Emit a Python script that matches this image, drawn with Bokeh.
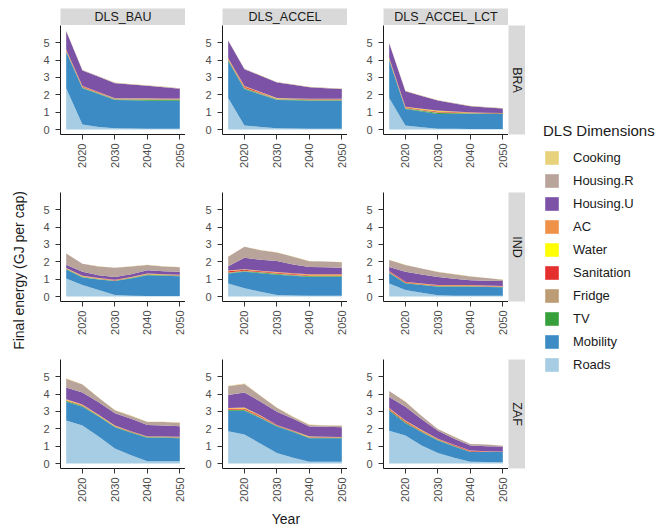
import math
from bokeh.plotting import figure
from bokeh.models import (ColumnDataSource, Range1d, FixedTicker, GridBox, Legend,
                          LegendItem)
from bokeh.embed import file_html
from bokeh.resources import INLINE
from bokeh.core.properties import value

years = [2015, 2020, 2025, 2030, 2035, 2040, 2045, 2050]
countries = ["BRA", "IND", "ZAF"]
scenarios = ["DLS_BAU", "DLS_ACCEL", "DLS_ACCEL_LCT"]
# stacking order, bottom -> top
dims = ["Roads", "Mobility", "TV", "Fridge", "Sanitation", "Water", "AC",
        "Housing.U", "Housing.R", "Cooking"]
legend_order = ["Cooking", "Housing.R", "Housing.U", "AC", "Water", "Sanitation",
                "Fridge", "TV", "Mobility", "Roads"]
dim_colors = {"Cooking": "#E8D17D", "Housing.R": "#B8A49A", "Housing.U": "#7B52A6",
              "AC": "#EF9148", "Water": "#FFFF00", "Sanitation": "#E42F2C",
              "Fridge": "#BC9C75", "TV": "#37A03A", "Mobility": "#3D8BC4",
              "Roads": "#A6CDE3"}
x_ticks = [2020, 2030, 2040, 2050]
y_ticks = [0, 1, 2, 3, 4, 5]
y_title = "Final energy (GJ per cap)"
x_title = "Year"
legend_title = "DLS Dimensions"

# rows = dims (bottom -> top), columns = years
BRA_BAU = [
    [2.38, 0.29, 0.15, 0.08, 0.06, 0.05, 0.05, 0.05],
    [2.08, 2.09, 1.89, 1.62, 1.62, 1.61, 1.61, 1.61],
    [0.03, 0.03, 0.03, 0.03, 0.04, 0.05, 0.05, 0.05],
    [0.03, 0.03, 0.04, 0.05, 0.06, 0.07, 0.06, 0.06],
    [0.04, 0.04, 0.03, 0.01, 0.01, 0.01, 0.01, 0.01],
    [0.02, 0.01, 0.01, 0.00, 0.00, 0.00, 0.00, 0.00],
    [0.02, 0.02, 0.01, 0.01, 0.01, 0.01, 0.01, 0.01],
    [1.06, 0.89, 0.88, 0.87, 0.79, 0.72, 0.65, 0.56],
    [0.02, 0.02, 0.02, 0.02, 0.02, 0.02, 0.02, 0.02],
    [0.02, 0.01, 0.01, 0.01, 0.01, 0.01, 0.01, 0.01],
]
BRA_ACCEL = [
    [1.81, 0.23, 0.15, 0.08, 0.06, 0.05, 0.05, 0.05],
    [2.13, 2.09, 1.86, 1.62, 1.62, 1.61, 1.61, 1.61],
    [0.04, 0.04, 0.04, 0.03, 0.03, 0.03, 0.03, 0.03],
    [0.03, 0.04, 0.04, 0.05, 0.05, 0.05, 0.05, 0.05],
    [0.05, 0.06, 0.04, 0.01, 0.01, 0.01, 0.01, 0.01],
    [0.02, 0.02, 0.01, 0.01, 0.01, 0.01, 0.01, 0.01],
    [0.02, 0.03, 0.02, 0.01, 0.01, 0.01, 0.01, 0.01],
    [1.01, 0.96, 0.93, 0.90, 0.78, 0.66, 0.61, 0.56],
    [0.02, 0.02, 0.02, 0.02, 0.02, 0.02, 0.02, 0.02],
    [0.01, 0.01, 0.01, 0.01, 0.01, 0.01, 0.01, 0.01],
]
BRA_ACCEL_LCT = [
    [1.81, 0.23, 0.13, 0.04, 0.04, 0.03, 0.03, 0.03],
    [2.17, 0.95, 0.91, 0.86, 0.86, 0.87, 0.87, 0.87],
    [0.04, 0.03, 0.04, 0.05, 0.04, 0.03, 0.02, 0.02],
    [0.03, 0.03, 0.04, 0.05, 0.04, 0.03, 0.02, 0.01],
    [0.04, 0.04, 0.04, 0.04, 0.03, 0.02, 0.02, 0.01],
    [0.02, 0.01, 0.02, 0.02, 0.01, 0.00, 0.00, 0.00],
    [0.02, 0.02, 0.02, 0.03, 0.02, 0.01, 0.01, 0.01],
    [0.83, 0.89, 0.73, 0.58, 0.46, 0.35, 0.30, 0.26],
    [0.02, 0.02, 0.02, 0.02, 0.02, 0.02, 0.02, 0.02],
    [0.01, 0.01, 0.01, 0.01, 0.01, 0.01, 0.01, 0.01],
]
IND_BAU = [
    [1.04, 0.66, 0.38, 0.09, 0.04, 0.03, 0.03, 0.03],
    [0.51, 0.43, 0.60, 0.80, 1.00, 1.20, 1.16, 1.14],
    [0.03, 0.03, 0.02, 0.02, 0.03, 0.03, 0.03, 0.03],
    [0.02, 0.03, 0.02, 0.02, 0.02, 0.02, 0.02, 0.02],
    [0.02, 0.02, 0.02, 0.02, 0.02, 0.02, 0.02, 0.02],
    [0.01, 0.01, 0.01, 0.00, 0.01, 0.01, 0.01, 0.00],
    [0.01, 0.01, 0.01, 0.01, 0.01, 0.01, 0.01, 0.01],
    [0.19, 0.23, 0.17, 0.17, 0.15, 0.19, 0.17, 0.17],
    [0.65, 0.46, 0.50, 0.52, 0.45, 0.31, 0.28, 0.27],
    [0.01, 0.01, 0.01, 0.01, 0.01, 0.01, 0.01, 0.01],
]
IND_ACCEL = [
    [0.75, 0.47, 0.28, 0.09, 0.06, 0.05, 0.05, 0.05],
    [0.57, 0.95, 1.06, 1.17, 1.13, 1.08, 1.08, 1.08],
    [0.04, 0.04, 0.04, 0.04, 0.04, 0.04, 0.04, 0.04],
    [0.03, 0.03, 0.03, 0.03, 0.03, 0.03, 0.03, 0.03],
    [0.06, 0.05, 0.04, 0.04, 0.03, 0.03, 0.03, 0.03],
    [0.02, 0.01, 0.01, 0.01, 0.01, 0.01, 0.01, 0.01],
    [0.03, 0.02, 0.03, 0.03, 0.04, 0.04, 0.04, 0.04],
    [0.24, 0.66, 0.62, 0.63, 0.51, 0.42, 0.40, 0.38],
    [0.55, 0.63, 0.56, 0.50, 0.44, 0.33, 0.33, 0.31],
    [0.01, 0.01, 0.01, 0.01, 0.01, 0.01, 0.01, 0.01],
]
IND_ACCEL_LCT = [
    [0.75, 0.38, 0.22, 0.08, 0.05, 0.04, 0.04, 0.04],
    [0.61, 0.37, 0.44, 0.49, 0.52, 0.53, 0.51, 0.49],
    [0.03, 0.03, 0.02, 0.02, 0.02, 0.02, 0.02, 0.02],
    [0.02, 0.02, 0.02, 0.02, 0.02, 0.02, 0.02, 0.02],
    [0.04, 0.03, 0.02, 0.02, 0.02, 0.02, 0.02, 0.01],
    [0.01, 0.01, 0.01, 0.01, 0.01, 0.01, 0.00, 0.00],
    [0.01, 0.01, 0.02, 0.02, 0.02, 0.02, 0.02, 0.02],
    [0.23, 0.57, 0.52, 0.47, 0.37, 0.28, 0.28, 0.29],
    [0.40, 0.40, 0.34, 0.28, 0.25, 0.22, 0.15, 0.08],
    [0.01, 0.01, 0.01, 0.01, 0.01, 0.01, 0.01, 0.01],
]
ZAF_BAU = [
    [2.47, 2.19, 1.56, 0.86, 0.48, 0.13, 0.13, 0.13],
    [1.09, 1.08, 1.14, 1.23, 1.29, 1.35, 1.35, 1.33],
    [0.04, 0.04, 0.03, 0.03, 0.03, 0.03, 0.03, 0.03],
    [0.02, 0.02, 0.02, 0.02, 0.02, 0.02, 0.02, 0.02],
    [0.04, 0.03, 0.02, 0.02, 0.02, 0.01, 0.01, 0.02],
    [0.02, 0.01, 0.01, 0.01, 0.01, 0.01, 0.01, 0.00],
    [0.02, 0.02, 0.02, 0.02, 0.01, 0.01, 0.01, 0.01],
    [0.67, 0.70, 0.72, 0.70, 0.71, 0.66, 0.63, 0.61],
    [0.51, 0.45, 0.26, 0.17, 0.17, 0.17, 0.20, 0.20],
    [0.02, 0.02, 0.02, 0.02, 0.02, 0.02, 0.02, 0.03],
]
ZAF_ACCEL = [
    [1.86, 1.67, 1.14, 0.61, 0.34, 0.10, 0.10, 0.10],
    [1.18, 1.37, 1.46, 1.52, 1.47, 1.36, 1.36, 1.36],
    [0.04, 0.04, 0.04, 0.03, 0.03, 0.03, 0.03, 0.02],
    [0.02, 0.03, 0.03, 0.02, 0.02, 0.02, 0.02, 0.02],
    [0.05, 0.06, 0.05, 0.02, 0.02, 0.02, 0.01, 0.01],
    [0.02, 0.03, 0.02, 0.01, 0.01, 0.02, 0.01, 0.00],
    [0.02, 0.03, 0.02, 0.01, 0.01, 0.01, 0.01, 0.01],
    [0.76, 0.86, 0.80, 0.76, 0.67, 0.57, 0.57, 0.57],
    [0.50, 0.49, 0.32, 0.23, 0.11, 0.09, 0.08, 0.08],
    [0.02, 0.02, 0.02, 0.02, 0.02, 0.02, 0.02, 0.02],
]
ZAF_ACCEL_LCT = [
    [1.89, 1.61, 1.04, 0.61, 0.34, 0.10, 0.09, 0.08],
    [1.15, 0.71, 0.76, 0.72, 0.64, 0.56, 0.57, 0.58],
    [0.04, 0.04, 0.03, 0.03, 0.03, 0.02, 0.01, 0.01],
    [0.02, 0.02, 0.02, 0.02, 0.02, 0.02, 0.01, 0.01],
    [0.05, 0.05, 0.04, 0.03, 0.03, 0.03, 0.02, 0.01],
    [0.02, 0.02, 0.02, 0.01, 0.01, 0.01, 0.00, 0.00],
    [0.02, 0.02, 0.02, 0.01, 0.01, 0.01, 0.01, 0.00],
    [0.64, 0.79, 0.62, 0.46, 0.34, 0.29, 0.29, 0.29],
    [0.34, 0.30, 0.18, 0.09, 0.12, 0.08, 0.09, 0.05],
    [0.01, 0.01, 0.01, 0.01, 0.01, 0.01, 0.01, 0.01],
]
panels = {
    ("BRA", "DLS_BAU"): BRA_BAU, ("BRA", "DLS_ACCEL"): BRA_ACCEL, ("BRA", "DLS_ACCEL_LCT"): BRA_ACCEL_LCT,
    ("IND", "DLS_BAU"): IND_BAU, ("IND", "DLS_ACCEL"): IND_ACCEL, ("IND", "DLS_ACCEL_LCT"): IND_ACCEL_LCT,
    ("ZAF", "DLS_BAU"): ZAF_BAU, ("ZAF", "DLS_ACCEL"): ZAF_ACCEL, ("ZAF", "DLS_ACCEL_LCT"): ZAF_ACCEL_LCT,
}

# ---------------- layout ----------------
FONT = "Liberation Sans"
TITLE_W = 30                 # column holding the y-axis title
FW, FH = 125, 109            # panel frame size
LEFTS = [30, 37, 36]         # left borders of the panel columns
BOTTOMS = [58, 58, 40]       # bottom borders of the panel rows
YEAR_H = 22                  # row holding the x-axis title
STRIP_TOP, STRIP_GAP = 17, 8
STRIP_W = 17
LEG_W = 137
TOTAL_H = STRIP_TOP + STRIP_GAP + sum(FH + b for b in BOTTOMS) + YEAR_H
X_RANGE = (2013.25, 2051.75)
Y_RANGE = (-0.285, 5.985)
STRIP_BG = "#D9D9D9"
TXT = "#1A1A1A"


def make_source(data):
    d = {"year": years}
    for i, name in enumerate(dims):
        d[name] = data[i]
    return ColumnDataSource(d)


def blank_fig(width, height, xr, yr, **borders):
    f = figure(width=width, height=height, x_range=Range1d(*xr), y_range=Range1d(*yr),
               output_backend="svg", toolbar_location=None,
               x_axis_type=None, y_axis_type=None,
               min_border_left=borders.get("bl", 0), min_border_right=borders.get("br", 0),
               min_border_top=borders.get("bt", 0), min_border_bottom=borders.get("bb", 0))
    f.outline_line_color = None
    f.xgrid.visible = False
    f.ygrid.visible = False
    f.border_fill_color = "white"
    f.background_fill_color = "white"
    return f


def make_panel(data, r, c):
    p = figure(width=LEFTS[c] + FW, height=FH + BOTTOMS[r],
               x_range=Range1d(*X_RANGE), y_range=Range1d(*Y_RANGE),
               output_backend="svg", toolbar_location=None,
               min_border_left=LEFTS[c], min_border_right=0,
               min_border_top=0, min_border_bottom=BOTTOMS[r])
    p.varea_stack(stackers=dims, x="year", color=[dim_colors[d] for d in dims],
                  source=make_source(data))
    p.xgrid.visible = False
    p.ygrid.visible = False
    p.outline_line_color = None
    p.background_fill_color = "white"
    p.border_fill_color = "white"
    for ax in (p.xaxis[0], p.yaxis[0]):
        ax.axis_line_color = TXT
        ax.axis_line_width = 1
        ax.major_tick_line_color = "#333333"
        ax.major_tick_in = 0
        ax.major_tick_out = 5
        ax.minor_tick_line_color = None
        ax.major_label_text_font = FONT
        ax.major_label_text_font_size = "11px"
        ax.major_label_text_color = "#4D4D4D"
    p.xaxis[0].ticker = FixedTicker(ticks=x_ticks)
    p.xaxis[0].major_label_orientation = math.pi / 2
    p.xaxis[0].major_label_standoff = 4
    p.yaxis[0].ticker = FixedTicker(ticks=y_ticks)
    p.yaxis[0].major_label_standoff = 6
    return p


def strip_fig(width, height, text, angle, **borders):
    s = blank_fig(width, height, (-1, 1), (-1, 1), **borders)
    s.background_fill_color = STRIP_BG
    s.text(x=[0], y=[0], text=[text], angle=angle, text_align="center",
           text_baseline="middle", text_font=value(FONT), text_font_size="12.5px",
           text_color=TXT)
    return s


children = []
# y-axis title column
ytf = blank_fig(TITLE_W, TOTAL_H, (0, TITLE_W), (0, TOTAL_H))
ytf.text(x=[18], y=[TOTAL_H - 266], text=[y_title], angle=math.pi / 2,
         text_align="center", text_baseline="middle", text_font=value(FONT),
         text_font_size="14px", text_color=TXT)
children.append((ytf, 0, 0, 5, 1))

# column strips
for c, scen in enumerate(scenarios):
    children.append((strip_fig(LEFTS[c] + FW, STRIP_TOP + STRIP_GAP, scen, 0,
                               bl=LEFTS[c], bt=STRIP_GAP), 0, c + 1))

# panels + row strips
for r, ctry in enumerate(countries):
    for c, scen in enumerate(scenarios):
        children.append((make_panel(panels[(ctry, scen)], r, c), r + 1, c + 1))
    children.append((strip_fig(STRIP_W, FH + BOTTOMS[r], ctry, -math.pi / 2,
                               bb=BOTTOMS[r]), r + 1, 4))

# x-axis title row
yr_w = sum(LEFTS) + 3 * FW
xtf = blank_fig(yr_w, YEAR_H, (0, yr_w), (0, YEAR_H))
xtf.text(x=[LEFTS[0] + FW + LEFTS[1] + FW / 2 - 14], y=[12], text=[x_title],
         text_align="center", text_baseline="middle", text_font=value(FONT),
         text_font_size="14px", text_color=TXT)
children.append((xtf, 4, 1, 1, 3))

# legend
lg = blank_fig(LEG_W, TOTAL_H, X_RANGE, (100, 101))
rends = lg.varea_stack(stackers=dims, x="year", color=[dim_colors[d] for d in dims],
                       source=make_source(BRA_BAU))
rmap = dict(zip(dims, rends))
legend = Legend(items=[LegendItem(label=d, renderers=[rmap[d]]) for d in legend_order],
                location=(18, 157), title=legend_title,
                title_text_font=FONT, title_text_font_size="15px", title_text_font_style="normal",
                title_text_color=TXT, title_standoff=10,
                label_text_font=FONT, label_text_font_size="13px", label_text_color=TXT,
                glyph_width=17, glyph_height=17, label_height=17, spacing=6,
                label_standoff=13, padding=0, margin=0,
                border_line_color=None, background_fill_alpha=0)
lg.add_layout(legend)
children.append((lg, 0, 5, 5, 1))

layout = GridBox(children=children, spacing=0)

open("out.html", "w").write(file_html(layout, INLINE))
